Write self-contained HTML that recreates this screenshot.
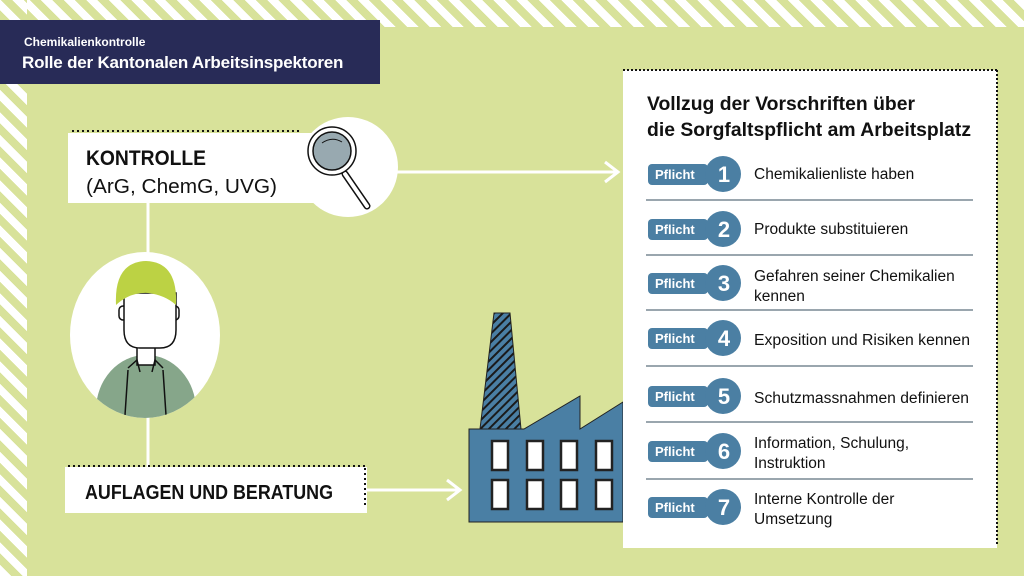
<!DOCTYPE html>
<html><head><meta charset="utf-8"><style>
body{margin:0;width:1024px;height:576px;overflow:hidden;background:#d8e29a;font-family:"Liberation Sans",sans-serif}
.st{position:absolute;background:repeating-linear-gradient(45deg,#fff 0 8px,#d8e29a 8px 16px)}
.abs{position:absolute}
</style></head><body>
<div class="st" style="left:0;top:0;width:1024px;height:27px"></div>
<div class="st" style="left:0;top:0;width:27px;height:576px"></div>
<div class="abs" style="left:27px;top:27px;width:997px;height:549px;background:#d8e29a"></div>
<div class="abs" style="left:0;top:20px;width:380px;height:64px;background:#282b57;color:#fff">
<div style="position:absolute;left:24px;top:15px;font-size:12px;font-weight:bold">Chemikalienkontrolle</div>
<div style="position:absolute;left:22px;top:33px;font-size:17px;font-weight:bold;letter-spacing:-0.2px">Rolle der Kantonalen Arbeitsinspektoren</div>
</div>
<svg class="abs" style="left:0;top:0" width="1024" height="576">
<defs><pattern id="h" width="6" height="6" patternUnits="userSpaceOnUse" patternTransform="rotate(45)"><rect width="6" height="6" fill="#4a7fa4"/><rect width="2" height="6" fill="#1a1a1a"/></pattern></defs>
<line x1="148" y1="200" x2="148" y2="470" stroke="#fff" stroke-width="3"/>
<line x1="396" y1="172" x2="618" y2="172" stroke="#fff" stroke-width="3"/>
<polyline points="605,162 618,172 605,182" fill="none" stroke="#fff" stroke-width="3"/>
<line x1="365" y1="490" x2="460" y2="490" stroke="#fff" stroke-width="3"/>
<polyline points="447,480 460,490 447,500" fill="none" stroke="#fff" stroke-width="3"/>
<rect x="68" y="133" width="255" height="70" fill="#fff"/>
<line x1="72" y1="131" x2="300" y2="131" stroke="#111" stroke-width="2" stroke-dasharray="2,3"/>
<circle cx="348" cy="167" r="50" fill="#fff"/>
<line x1="345" y1="174" x2="367" y2="206" stroke="#111" stroke-width="7" stroke-linecap="round"/>
<line x1="345" y1="174" x2="367" y2="206" stroke="#fff" stroke-width="4" stroke-linecap="round"/>
<circle cx="332" cy="151" r="24" fill="#fff" stroke="#111" stroke-width="1.5"/>
<circle cx="332" cy="151" r="19" fill="#98a9b0" stroke="#111" stroke-width="1.5"/>
<path d="M322 143 Q332 136 342 142" fill="none" stroke="#111" stroke-width="1"/>
<ellipse cx="145" cy="335" rx="75" ry="83" fill="#fff"/>
<clipPath id="c"><ellipse cx="145" cy="335" rx="75" ry="83"/></clipPath>
<g clip-path="url(#c)">
<ellipse cx="146" cy="410" rx="50" ry="55" fill="#86a68a"/>
<path d="M128 370 L125 415 M163 370 L166 415" stroke="#111" stroke-width="1.5"/>
<rect x="137" y="340" width="18" height="25" fill="#fff" stroke="#111" stroke-width="1.5"/>
<path d="M128 368 L137 360 L140 372 M163 368 L155 360 L152 372" fill="none" stroke="#111" stroke-width="1.5"/>
</g>
<rect x="119" y="306" width="8" height="14" rx="4" fill="#fff" stroke="#111" stroke-width="1.5"/>
<rect x="171" y="306" width="8" height="14" rx="4" fill="#fff" stroke="#111" stroke-width="1.5"/>
<path d="M124 293 L124 330 Q124 348 140 348 L160 348 Q176 348 176 330 L176 293 Z" fill="#fff" stroke="#111" stroke-width="1.5"/>
<path d="M116 305 Q114 262 146 261 Q178 262 176 305 Q165 295 148 293 Q130 292 116 305Z" fill="#bcd244"/>
<rect x="65" y="467" width="302" height="46" fill="#fff"/>
<line x1="68" y1="466" x2="365" y2="466" stroke="#111" stroke-width="2" stroke-dasharray="2,3"/>
<line x1="365" y1="468" x2="365" y2="507" stroke="#111" stroke-width="2" stroke-dasharray="2,3"/>
<polygon points="494,313 510,313 521,429 480,429" fill="url(#h)" stroke="#222" stroke-width="1"/>
<polygon points="469,429 524,429 580,396 580,429 623,402 623,522 469,522" fill="#4a7fa4" stroke="#222" stroke-width="1"/>
<g fill="#fff" stroke="#222" stroke-width="2.5">
<rect x="492" y="441" width="16" height="29"/><rect x="527" y="441" width="16" height="29"/><rect x="561" y="441" width="16" height="29"/><rect x="596" y="441" width="16" height="29"/>
<rect x="492" y="480" width="16" height="29"/><rect x="527" y="480" width="16" height="29"/><rect x="561" y="480" width="16" height="29"/><rect x="596" y="480" width="16" height="29"/>
</g>
<rect x="623" y="70" width="374" height="478" fill="#fff"/>
<line x1="623" y1="70" x2="997" y2="70" stroke="#111" stroke-width="2" stroke-dasharray="2,2"/>
<line x1="997" y1="70" x2="997" y2="545" stroke="#111" stroke-width="2" stroke-dasharray="2,2"/>
<g stroke="#9aa6ae" stroke-width="2">
<line x1="646" y1="200" x2="973" y2="200"/><line x1="646" y1="255" x2="973" y2="255"/><line x1="646" y1="310" x2="973" y2="310"/><line x1="646" y1="366" x2="973" y2="366"/><line x1="646" y1="422" x2="973" y2="422"/><line x1="646" y1="479" x2="973" y2="479"/>
</g>
<g fill="#4b7fa3">
<rect x="648" y="164" width="60" height="21" rx="4"/><circle cx="723" cy="174" r="18"/>
<rect x="648" y="219" width="60" height="21" rx="4"/><circle cx="723" cy="229" r="18"/>
<rect x="648" y="273" width="60" height="21" rx="4"/><circle cx="723" cy="283" r="18"/>
<rect x="648" y="328" width="60" height="21" rx="4"/><circle cx="723" cy="338" r="18"/>
<rect x="648" y="386" width="60" height="21" rx="4"/><circle cx="723" cy="396" r="18"/>
<rect x="648" y="441" width="60" height="21" rx="4"/><circle cx="723" cy="451" r="18"/>
<rect x="648" y="497" width="60" height="21" rx="4"/><circle cx="723" cy="507" r="18"/>
</g>
<g fill="#fff" font-weight="bold" font-family="Liberation Sans, sans-serif">
<g font-size="13"><text x="655" y="179">Pflicht</text><text x="655" y="234">Pflicht</text><text x="655" y="288">Pflicht</text><text x="655" y="343">Pflicht</text><text x="655" y="401">Pflicht</text><text x="655" y="456">Pflicht</text><text x="655" y="512">Pflicht</text></g>
<g font-size="22" text-anchor="middle"><text x="724" y="182">1</text><text x="724" y="237">2</text><text x="724" y="291">3</text><text x="724" y="346">4</text><text x="724" y="404">5</text><text x="724" y="459">6</text><text x="724" y="515">7</text></g>
</g>
<g fill="#111" font-size="15.5" font-family="Liberation Sans, sans-serif">
<text x="754" y="179">Chemikalienliste haben</text>
<text x="754" y="234">Produkte substituieren</text>
<text x="754" y="281">Gefahren seiner Chemikalien</text><text x="754" y="301">kennen</text>
<text x="754" y="345" textLength="216" lengthAdjust="spacingAndGlyphs">Exposition und Risiken kennen</text>
<text x="754" y="403" textLength="215" lengthAdjust="spacingAndGlyphs">Schutzmassnahmen definieren</text>
<text x="754" y="448">Information, Schulung,</text><text x="754" y="468">Instruktion</text>
<text x="754" y="504">Interne Kontrolle der</text><text x="754" y="524">Umsetzung</text>
</g>
<g fill="#111" font-size="19" font-weight="bold" font-family="Liberation Sans, sans-serif">
<text x="647" y="110" textLength="268" lengthAdjust="spacingAndGlyphs">Vollzug der Vorschriften über</text>
<text x="647" y="136" textLength="324" lengthAdjust="spacingAndGlyphs">die Sorgfaltspflicht am Arbeitsplatz</text>
</g>
<g fill="#111" font-family="Liberation Sans, sans-serif">
<text x="86" y="165" font-size="21" font-weight="bold" textLength="120" lengthAdjust="spacingAndGlyphs">KONTROLLE</text>
<text x="86" y="193" font-size="20" textLength="191" lengthAdjust="spacingAndGlyphs">(ArG, ChemG, UVG)</text>
<text x="85" y="499" font-size="20" font-weight="bold" textLength="248" lengthAdjust="spacingAndGlyphs">AUFLAGEN UND BERATUNG</text>
</g>
</svg>
</body></html>
